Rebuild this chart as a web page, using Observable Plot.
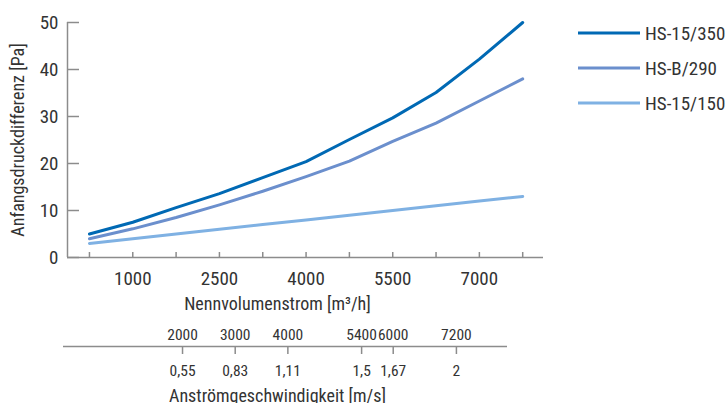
<!DOCTYPE html>
<html>
<head>
<meta charset="utf-8">
<script src="https://cdn.jsdelivr.net/npm/d3@7"></script>
<script src="https://cdn.jsdelivr.net/npm/@observablehq/plot@0.6"></script>
<style>
  html, body { margin: 0; padding: 0; background: #fff; }
  #wrap { position: relative; width: 728px; height: 403px; overflow: hidden; }
  #wrap svg { display: block; }
  #legend { position: absolute; left: 0; top: 0; }
</style>
</head>
<body>
<div id="wrap"></div>
<script>
const FONT = '"Roboto Condensed", "DejaVu Sans Condensed", sans-serif';
const TEXT = "#333333";
const AXIS = "#8c8c8c";

// Data
const volume = [250, 1000, 1750, 2500, 3250, 4000, 4750, 5500, 6250, 7000, 7750];
const hs15_350 = [5, 7.5, 10.6, 13.6, 17, 20.4, 25.1, 29.7, 35.1, 42.2, 50];
const hsB_290 = [4, 6.1, 8.5, 11.2, 14.1, 17.2, 20.5, 24.7, 28.6, 33.3, 38];
const hs15_150 = [3, 4, 5, 6, 7, 8, 9, 10, 11, 12, 13];
const seriesNames = ["HS-15/350", "HS-B/290", "HS-15/150"];
const seriesColors = ["#0069b4", "#6b8fcd", "#7fb1e3"];

const xTicks = [250, 1000, 1750, 2500, 3250, 4000, 4750, 5500, 6250, 7000, 7750];
const xTickLabels = [1000, 2500, 4000, 5500, 7000];
const yTicks = [0, 10, 20, 30, 40, 50];

const secVolume = [2000, 3000, 4000, 5400, 6000, 7200];
const secVelocity = ["0,55", "0,83", "1,11", "1,5", "1,67", "2"];

const yTitle = "Anfangsdruckdifferenz [Pa]";
const xTitle = "Nennvolumenstrom [m³/h]";
const secTitle = "Anströmgeschwindigkeit [m/s]";

const rows = [];
[hs15_350, hsB_290, hs15_150].forEach((vals, s) => {
  vals.forEach((v, i) => rows.push({series: seriesNames[s], x: volume[i], y: v}));
});

const W = 728, H1 = 320;
const mL = 67, mR = 185, mT = 22, mB = 63;
const xDomain = [-130, 8110];
const frameW = W - mL - mR, frameH = H1 - mT - mB;

const main = Plot.plot({
  width: W, height: H1,
  marginLeft: mL, marginRight: mR, marginTop: mT, marginBottom: mB,
  x: {domain: xDomain},
  y: {domain: [0, 50]},
  color: {domain: seriesNames, range: seriesColors},
  style: {fontFamily: FONT, fontSize: "19px", color: TEXT, background: "transparent"},
  marks: [
    Plot.ruleY([0], {stroke: AXIS, strokeWidth: 1.5}),
    Plot.ruleX([xDomain[0]], {stroke: AXIS, strokeWidth: 1.5}),
    Plot.tickY(yTicks, {y: d => d, insetRight: frameW - 12, stroke: AXIS, strokeWidth: 1.5}),
    Plot.tickX(xTicks, {x: d => d, insetTop: frameH - 5, stroke: AXIS, strokeWidth: 1.5}),
    Plot.axisY(yTicks, {tickSize: 0, tickPadding: 9, label: null, fill: TEXT, tickFormat: d => String(d)}),
    Plot.axisX(xTickLabels, {tickSize: 0, tickPadding: 14, label: null, fill: TEXT, tickFormat: d => String(d)}),
    Plot.text([yTitle], {frameAnchor: "left", textAnchor: "middle", lineAnchor: "middle",
      rotate: -90, dx: -49, fontSize: 18, fill: TEXT}),
    Plot.text([xTitle], {frameAnchor: "bottom", textAnchor: "middle", lineAnchor: "middle",
      dy: 47, dx: -28, fontSize: 18, fill: TEXT}),
    Plot.line(rows, {x: "x", y: "y", z: "series", stroke: "series", strokeWidth: 3, curve: "linear"})
  ]
});

const H2 = 83;
const sec = Plot.plot({
  width: W, height: H2,
  marginLeft: 63, marginRight: 221, marginTop: 25, marginBottom: H2 - 26,
  x: {domain: [-260, 8170]},
  y: {domain: [0, 1], axis: null},
  style: {fontFamily: FONT, fontSize: "15.5px", color: TEXT, background: "transparent"},
  marks: [
    Plot.ruleY([0], {stroke: AXIS, strokeWidth: 1.5}),
    Plot.axisX(secVolume, {anchor: "top", tickSize: 0, tickPadding: 6, label: null, fill: TEXT, tickFormat: d => String(d)}),
    Plot.axisX(secVolume, {anchor: "bottom", tickSize: 8, tickPadding: 10, label: null, fill: TEXT,
      stroke: AXIS, strokeWidth: 1.5,
      tickFormat: d => secVelocity[secVolume.indexOf(d)]}),
    Plot.text([secTitle], {frameAnchor: "bottom", textAnchor: "middle", lineAnchor: "middle",
      dy: 50, dx: -8, fontSize: 18, fill: TEXT})
  ]
});

const wrap = document.getElementById("wrap");
wrap.appendChild(main);
wrap.appendChild(sec);

// Legend
const leg = d3.create("svg").attr("id", "legend").attr("width", W).attr("height", 120)
  .style("font-family", FONT);
const legY = [33, 68, 103];
seriesNames.forEach((name, i) => {
  leg.append("line").attr("x1", 578).attr("x2", 640).attr("y1", legY[i]).attr("y2", legY[i])
    .attr("stroke", seriesColors[i]).attr("stroke-width", 3);
  leg.append("text").attr("x", 645).attr("y", legY[i]).attr("dy", "0.35em")
    .attr("fill", TEXT).style("font-size", "19px").text(name);
});
wrap.appendChild(leg.node());
</script>
</body>
</html>
